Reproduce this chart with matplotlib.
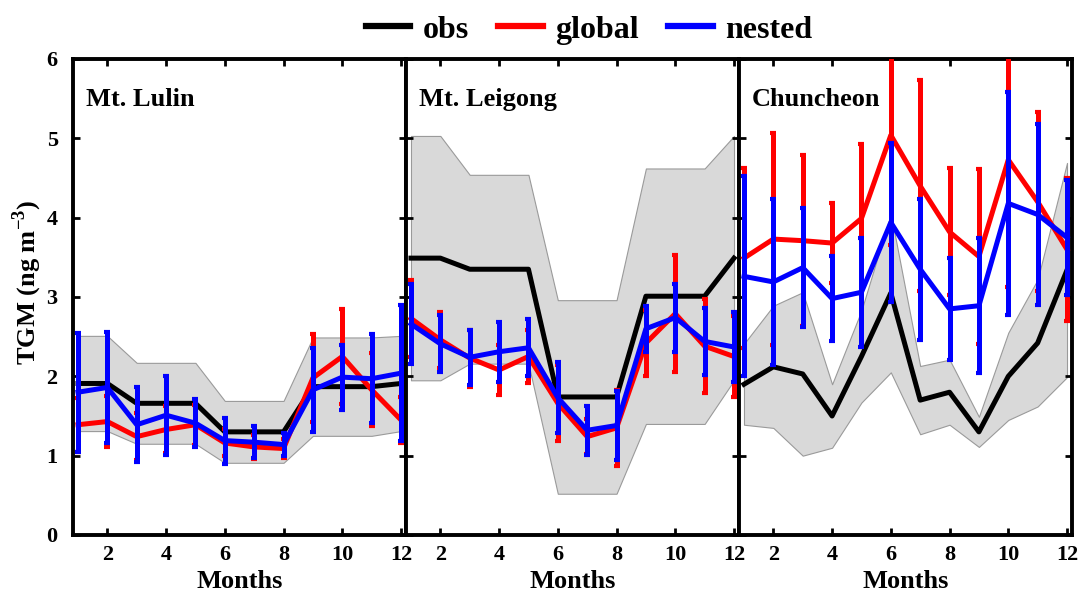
# TGM seasonal cycle at three sites: obs vs global and nested model runs

import matplotlib
matplotlib.use("Agg")
import matplotlib.pyplot as plt
import numpy as np

months = np.arange(1, 13)
sites = ["Mt. Lulin", "Mt. Leigong", "Chuncheon"]

# Mt. Lulin
obs_lulin = [1.91, 1.91, 1.66, 1.66, 1.66, 1.30, 1.30, 1.30, 1.87, 1.87, 1.87, 1.91]
obs_sd_lulin = [0.60, 0.60, 0.51, 0.51, 0.51, 0.39, 0.39, 0.39, 0.62, 0.62, 0.62, 0.60]
glb_lulin = [1.39, 1.43, 1.24, 1.33, 1.39, 1.16, 1.11, 1.09, 1.98, 2.25, 1.83, 1.45]
glb_sd_lulin = [0.34, 0.32, 0.30, 0.30, 0.25, 0.17, 0.15, 0.12, 0.55, 0.60, 0.46, 0.29]
nst_lulin = [1.80, 1.86, 1.39, 1.51, 1.41, 1.19, 1.17, 1.14, 1.83, 1.99, 1.97, 2.04]
nst_sd_lulin = [0.75, 0.70, 0.47, 0.50, 0.30, 0.29, 0.20, 0.14, 0.53, 0.41, 0.56, 0.86]

# Mt. Leigong
obs_leigong = [3.49, 3.49, 3.35, 3.35, 3.35, 1.74, 1.74, 1.74, 3.01, 3.01, 3.01, 3.49]
obs_sd_leigong = [1.54, 1.54, 1.19, 1.19, 1.19, 1.22, 1.22, 1.22, 1.61, 1.61, 1.61, 1.54]
glb_leigong = [2.73, 2.46, 2.23, 2.08, 2.25, 1.66, 1.24, 1.35, 2.42, 2.79, 2.38, 2.25]
glb_sd_leigong = [0.48, 0.35, 0.36, 0.31, 0.34, 0.48, 0.22, 0.48, 0.42, 0.74, 0.59, 0.51]
nst_leigong = [2.66, 2.41, 2.24, 2.31, 2.36, 1.73, 1.32, 1.38, 2.60, 2.74, 2.44, 2.37]
nst_sd_leigong = [0.50, 0.36, 0.35, 0.38, 0.36, 0.45, 0.31, 0.43, 0.29, 0.43, 0.42, 0.44]

# Chuncheon
obs_chun = [1.90, 2.12, 2.03, 1.50, 2.25, 3.05, 1.70, 1.80, 1.30, 2.00, 2.42, 3.34]
obs_sd_chun = [0.51, 0.77, 1.03, 0.40, 0.58, 1.00, 0.43, 0.41, 0.19, 0.55, 0.80, 1.35]
glb_chun = [3.49, 3.73, 3.71, 3.68, 3.99, 5.04, 4.40, 3.82, 3.51, 4.73, 4.20, 3.60]
glb_sd_chun = [1.13, 1.34, 1.08, 0.50, 0.94, 1.38, 1.33, 0.80, 1.10, 1.61, 1.13, 0.90]
nst_chun = [3.26, 3.19, 3.37, 2.98, 3.06, 3.94, 3.35, 2.85, 2.89, 4.18, 4.04, 3.75]
nst_sd_chun = [1.26, 1.05, 0.75, 0.54, 0.69, 1.00, 0.89, 0.64, 0.85, 1.41, 1.14, 0.72]

obs_all = [obs_lulin, obs_leigong, obs_chun]
obs_sd_all = [obs_sd_lulin, obs_sd_leigong, obs_sd_chun]
glb_all = [glb_lulin, glb_leigong, glb_chun]
glb_sd_all = [glb_sd_lulin, glb_sd_leigong, glb_sd_chun]
nst_all = [nst_lulin, nst_leigong, nst_chun]
nst_sd_all = [nst_sd_lulin, nst_sd_leigong, nst_sd_chun]

plt.rcParams['font.family'] = ['Liberation Serif', 'DejaVu Serif']
plt.rcParams['font.weight'] = 'bold'
plt.rcParams['axes.labelweight'] = 'bold'
plt.rcParams['mathtext.fontset'] = 'custom'
plt.rcParams['mathtext.rm'] = 'Liberation Serif:bold'
plt.rcParams['mathtext.bf'] = 'Liberation Serif:bold'

fig = plt.figure(figsize=(10.8, 5.99), dpi=100)

W, H = 1080.0, 599.0
lefts = [73, 406, 739]
pw = 333
bottom = (H - 535) / H
height = 476 / H

lw = 3.6
for k in range(3):
    ax = fig.add_axes([lefts[k] / W, bottom, pw / W, height])
    obs = np.array(obs_all[k])
    sd = np.array(obs_sd_all[k])
    ax.fill_between(months, obs - sd, obs + sd, facecolor='#d9d9d9',
                    edgecolor='#9a9a9a', lw=0.8, zorder=1)
    ax.plot(months, obs, color='k', lw=lw, zorder=2)
    ax.errorbar(months, glb_all[k], yerr=glb_sd_all[k], color='#ff0000',
                lw=lw, elinewidth=lw, capsize=2.3, capthick=3, zorder=3)
    ax.errorbar(months, nst_all[k], yerr=nst_sd_all[k], color='#0000ff',
                lw=lw, elinewidth=lw, capsize=2.3, capthick=3, zorder=4)
    ax.set_xlim(0.83, 12.17)
    ax.set_ylim(0, 6)
    ax.set_xticks([2, 4, 6, 8, 10, 12])
    ax.set_yticks([0, 1, 2, 3, 4, 5, 6])
    ax.tick_params(direction='in', top=True, right=True, length=5, width=2,
                   labelsize=16, pad=7)
    ax.tick_params(axis='y', pad=11)
    for s in ax.spines.values():
        s.set_linewidth(2.8)
    if k > 0:
        ax.set_yticklabels([])
    else:
        ax.set_ylabel('TGM (ng m$^{-3}$)', fontsize=19, fontweight='bold')
        ax.yaxis.set_label_coords(-0.088, 0.53)
    ax.set_xlabel('Months', fontsize=19, fontweight='bold', labelpad=4)
    ax.text(0.038, 0.914, sites[k], transform=ax.transAxes, fontsize=19,
            fontweight='bold', va='center', ha='left')

handles = [plt.Line2D([], [], color='k', lw=4.5),
           plt.Line2D([], [], color='#ff0000', lw=4.5),
           plt.Line2D([], [], color='#0000ff', lw=4.5)]
fig.legend(handles, ['obs', 'global', 'nested'], loc='center',
           bbox_to_anchor=(589 / W, 1 - 30 / H), ncol=3, frameon=False,
           handlelength=1.4, handletextpad=0.4, columnspacing=0.9,
           prop={'family': 'Liberation Serif', 'weight': 'bold', 'size': 23})

fig.savefig('out.png', dpi=100)
